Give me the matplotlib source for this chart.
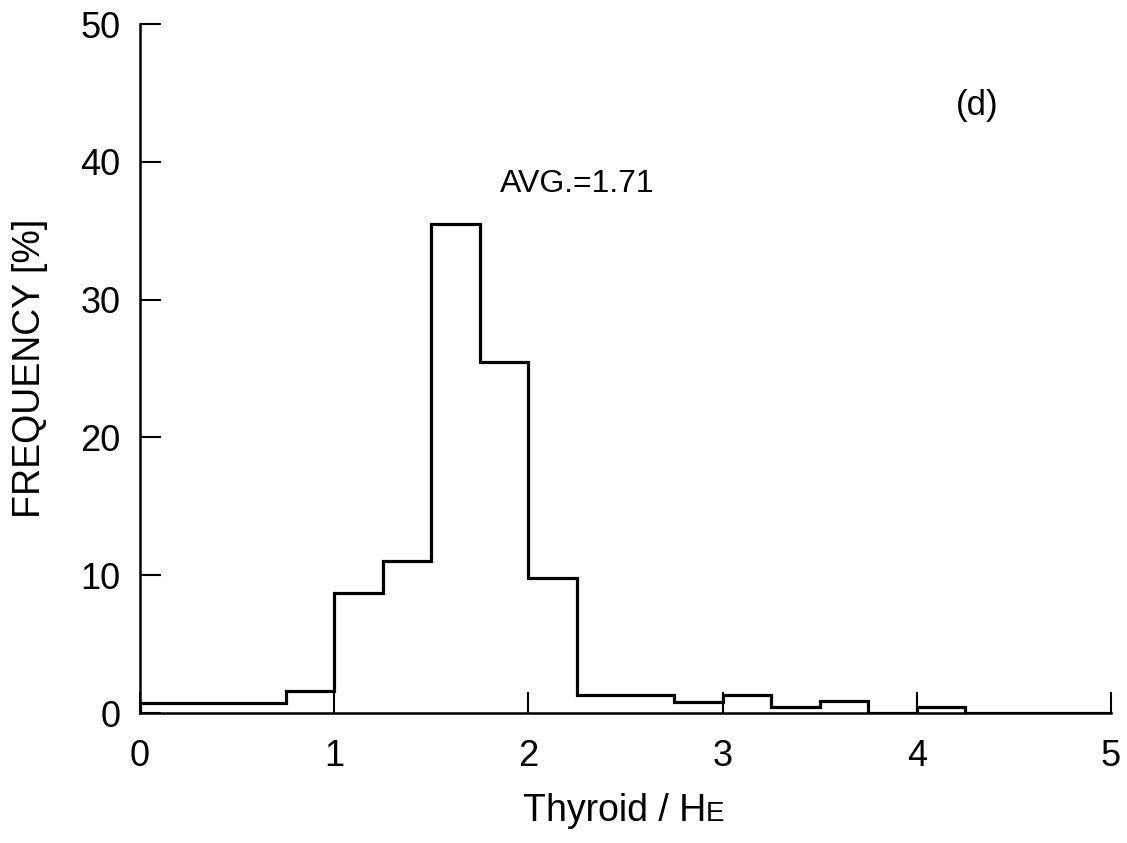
import numpy as np
import matplotlib
matplotlib.use('Agg')
import matplotlib.pyplot as plt

plt.rcParams['font.family'] = ['Liberation Sans', 'DejaVu Sans']

# histogram bins (width 0.25) and frequencies in %
bin_edges = np.arange(0, 5.01, 0.25)
freq = [0.75, 0.75, 0.75, 1.6, 8.7, 11.0, 35.5, 25.5, 9.8, 1.3,
        1.3, 0.8, 1.3, 0.4, 0.9, 0.0, 0.45, 0.0, 0.0, 0.0]
avg_text = 'AVG.=1.71'
panel = '(d)'

fig = plt.figure(figsize=(11.27, 8.43), dpi=100)
ax = fig.add_axes([0.1242, 0.1542, 0.8616, 0.8173])

# step outline of the histogram
ax.stairs(freq, bin_edges, color='black', linewidth=2.3, baseline=0)

ax.set_xlim(0, 5)
ax.set_ylim(0, 50)
ax.set_xticks([0, 1, 2, 3, 4, 5])
ax.set_yticks([0, 10, 20, 30, 40, 50])
ax.tick_params(direction='in', length=15, width=1.5, labelsize=26)
ax.tick_params(axis='x', pad=19)
ax.tick_params(axis='y', pad=14)
ax.spines['top'].set_visible(False)
ax.spines['right'].set_visible(False)
ax.spines['left'].set_linewidth(1.8)
ax.spines['bottom'].set_linewidth(1.8)

ax.set_ylabel('FREQUENCY [%]', fontsize=27)
ax.yaxis.set_label_coords(-0.095, 0.5)

ax.text(1.854, 38.4, avg_text, fontsize=23, va='center', ha='left')
ax.text(4.2, 44.1, panel, fontsize=25, va='center', ha='left')

# x label with small-cap E
xl = fig.text(0.545, 0.026, 'Thyroid / H', fontsize=27, ha='center', va='baseline')
fig.canvas.draw()
bb = xl.get_window_extent(fig.canvas.get_renderer())
fig.text(bb.x1 / fig.bbox.width, 0.026, 'E', fontsize=20, ha='left', va='baseline')

fig.savefig('out.png', dpi=100)
